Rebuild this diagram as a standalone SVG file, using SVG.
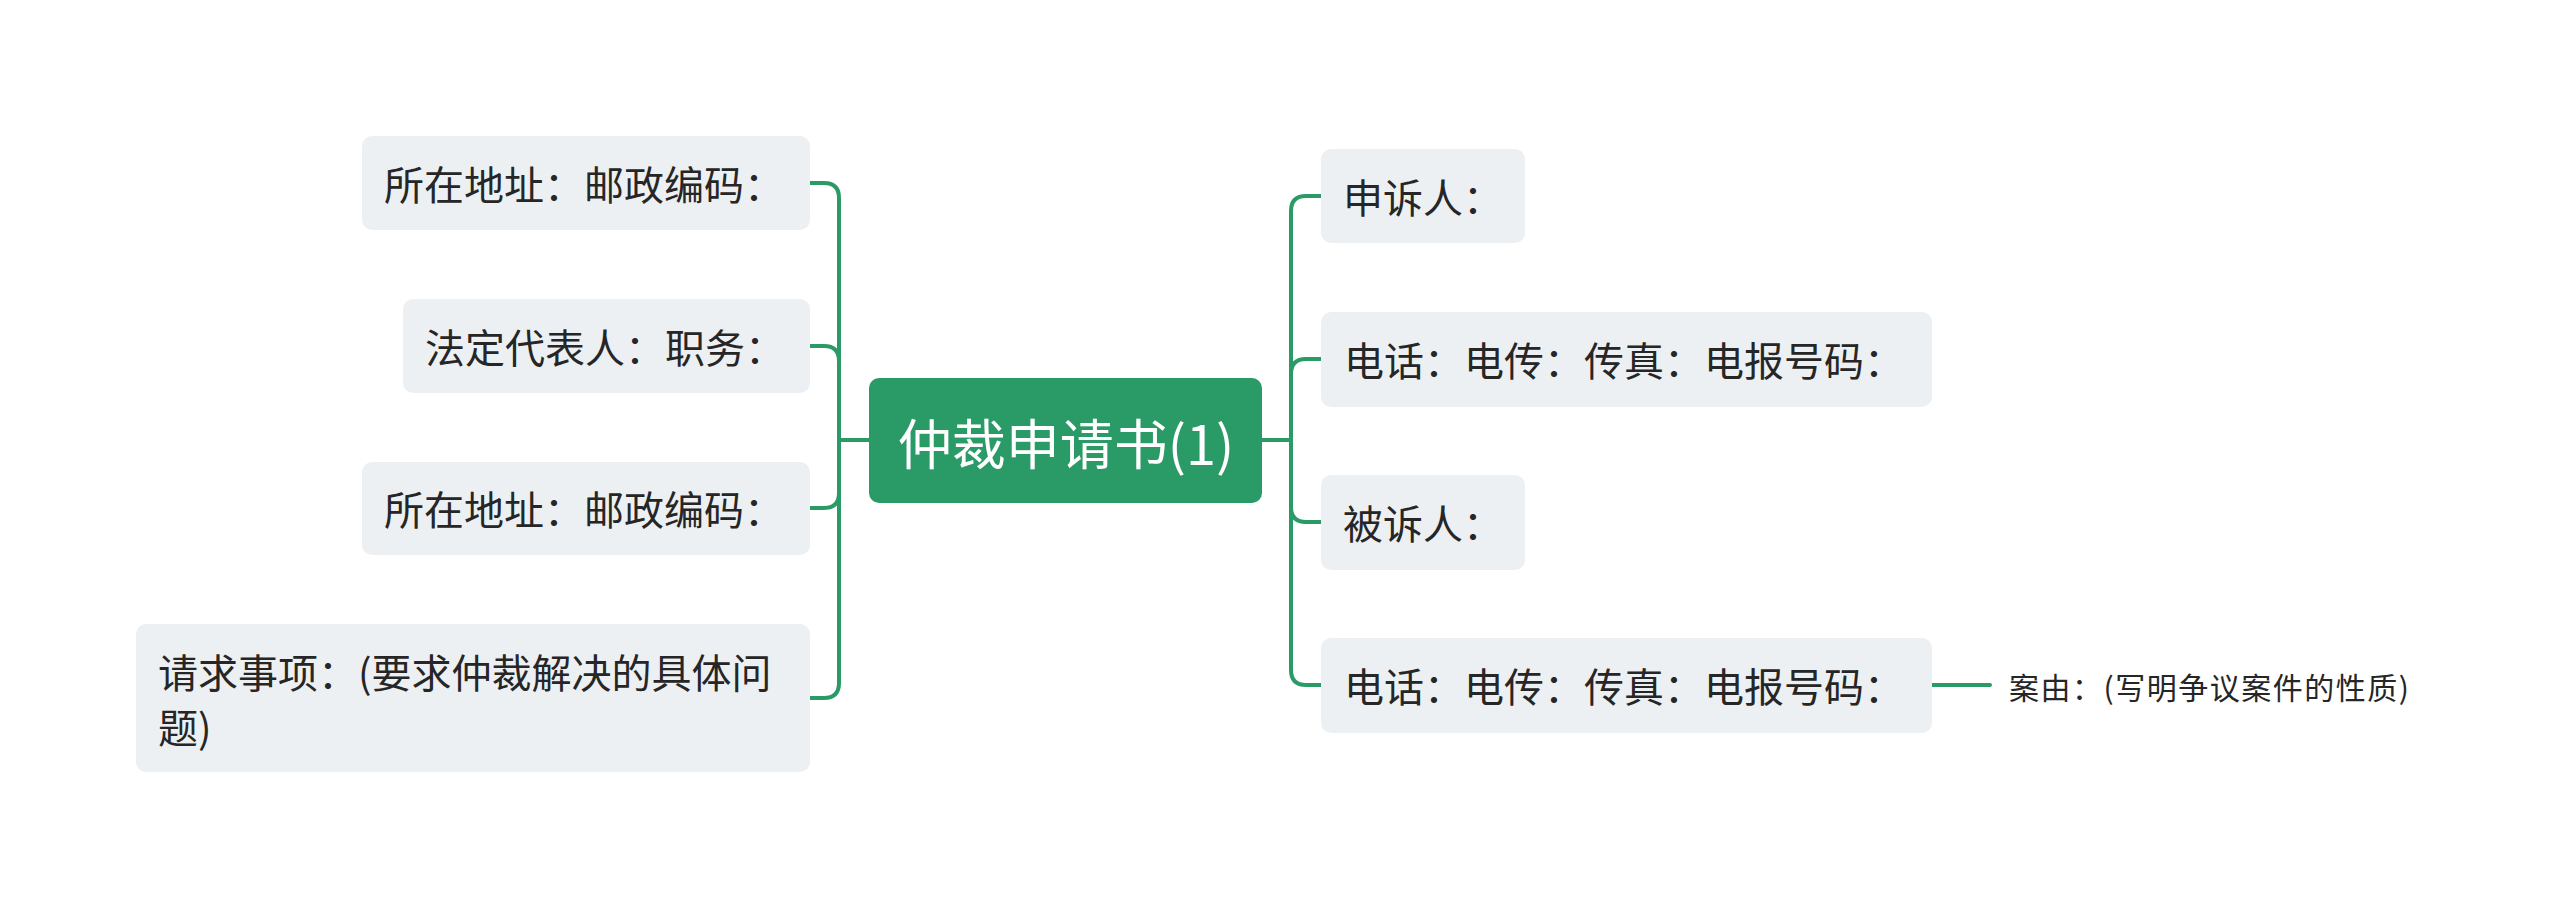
<svg xmlns="http://www.w3.org/2000/svg" width="2560" height="909" viewBox="0 0 2560 909">
<style>
.bg{fill:#ffffff}
.node rect{fill:#edf0f3}
.t{font-family:"Noto Sans CJK SC","Noto Sans",sans-serif;font-size:40px;fill:#262626;dominant-baseline:central}
.root rect{fill:#2a9a66}
.rt{font-family:"Noto Sans CJK SC","Noto Sans",sans-serif;font-size:54px;fill:#ffffff;dominant-baseline:central;text-anchor:middle}
.leaf{font-family:"Noto Sans CJK SC","Noto Sans",sans-serif;font-size:30px;letter-spacing:1.5px;fill:#262626;dominant-baseline:central}
.c{fill:none;stroke:#2a9a66;stroke-width:4;stroke-linecap:round}
</style>
<rect class="bg" x="0" y="0" width="2560" height="909"/>
<g id="connectors">
<path class="c" d="M869 440 H839"/>
<path class="c" d="M810 183 H824 Q839 183 839 198 V683 Q839 698 824 698 H810"/>
<path class="c" d="M810 346 H824 Q839 346 839 361"/>
<path class="c" d="M810 508 H824 Q839 508 839 493"/>
<path class="c" d="M1262 440 H1291"/>
<path class="c" d="M1321 196 H1306 Q1291 196 1291 211 V670 Q1291 685 1306 685 H1321"/>
<path class="c" d="M1321 359 H1306 Q1291 359 1291 374"/>
<path class="c" d="M1321 522 H1306 Q1291 522 1291 507"/>
<path class="c" d="M1932 685 H1990"/>
</g>
<g id="root" class="root">
<rect x="869" y="378" width="393" height="125" rx="10"/>
<text class="rt" x="1066" y="441">仲裁申请书(1)</text>
</g>
<g id="l1" class="node">
<rect x="362" y="136" width="448" height="94" rx="10"/>
<text class="t" x="384" y="183">所在地址：邮政编码：</text>
</g>
<g id="l2" class="node">
<rect x="403" y="299" width="407" height="94" rx="10"/>
<text class="t" x="425" y="346">法定代表人：职务：</text>
</g>
<g id="l3" class="node">
<rect x="362" y="462" width="448" height="93" rx="10"/>
<text class="t" x="384" y="508">所在地址：邮政编码：</text>
</g>
<g id="l4" class="node">
<rect x="136" y="624" width="674" height="148" rx="10"/>
<text class="t" x="158" y="671">请求事项：(要求仲裁解决的具体问</text>
<text class="t" x="158" y="726">题)</text>
</g>
<g id="r1" class="node">
<rect x="1321" y="149" width="204" height="94" rx="10"/>
<text class="t" x="1343" y="196">申诉人：</text>
</g>
<g id="r2" class="node">
<rect x="1321" y="312" width="611" height="95" rx="10"/>
<text class="t" x="1344" y="359">电话：电传：传真：电报号码：</text>
</g>
<g id="r3" class="node">
<rect x="1321" y="475" width="204" height="95" rx="10"/>
<text class="t" x="1343" y="522">被诉人：</text>
</g>
<g id="r4" class="node">
<rect x="1321" y="638" width="611" height="95" rx="10"/>
<text class="t" x="1344" y="685">电话：电传：传真：电报号码：</text>
</g>
<g id="leaf1">
<text class="leaf" x="2009" y="686">案由：(写明争议案件的性质)</text>
</g>
</svg>
